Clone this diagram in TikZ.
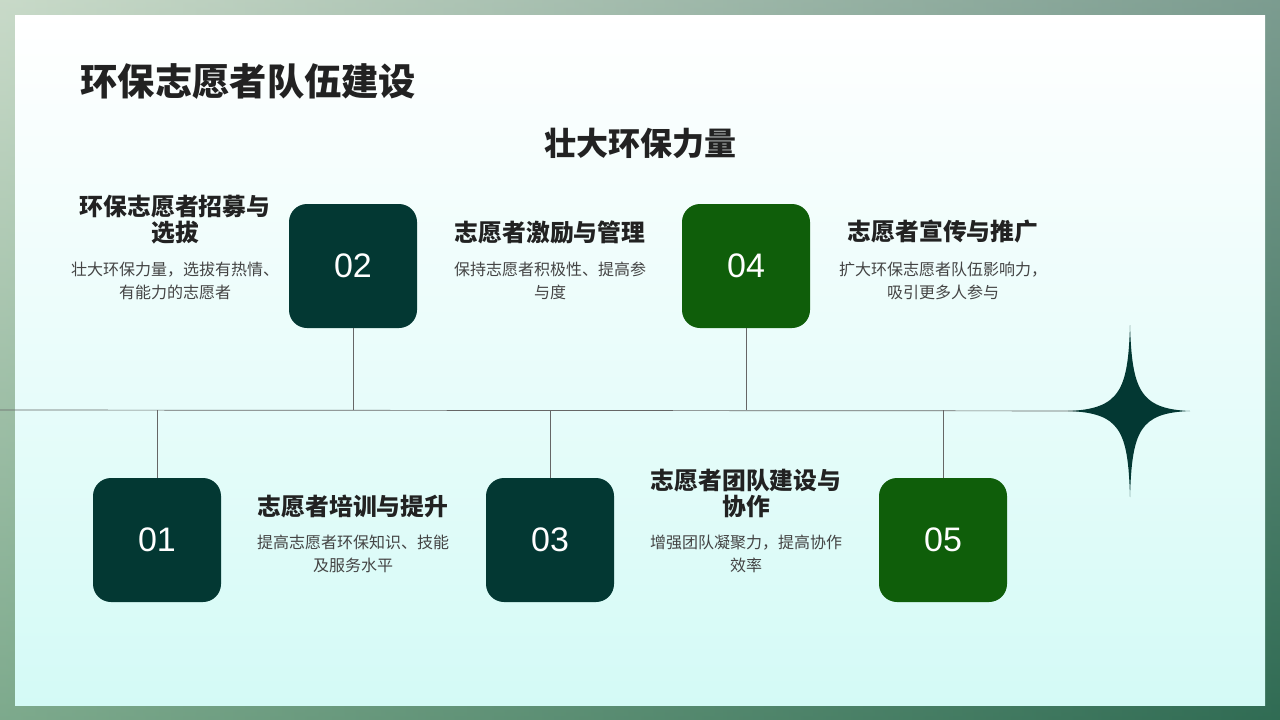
\documentclass[tikz,border=0pt]{standalone}
\usepackage{fontspec}
\setmainfont{Noto Sans CJK SC}
\newfontfamily\numfont{Liberation Sans}
\definecolor{dk}{HTML}{033833}
\definecolor{gr}{HTML}{0F5E0A}
\definecolor{tx}{HTML}{222222}
\definecolor{bd}{HTML}{444444}
\tikzset{
 num/.style={rounded corners=18pt,minimum width=128pt,minimum height=124pt,text=white,font=\numfont\fontsize{34}{40}\selectfont},
 ttl/.style={align=center,text=tx,font=\fontsize{23.8}{26}\selectfont\bfseries},
 bdy/.style={align=center,text=bd,font=\fontsize{16}{23}\selectfont},
 ln/.style={draw=black!60,line width=0.7pt}
}
\begin{document}
\begin{tikzpicture}[x=1pt,y=-1pt]
\useasboundingbox (0,0) rectangle (1280,720);
\shade[top color=green!25!gray!40, bottom color=dk!80!green] (0,0) rectangle (1280,720);
\shade[left color=white!60!green!30!gray!40, right color=dk!70, opacity=0.6] (0,0) rectangle (1280,720);
\shade[top color=white, bottom color={rgb,255:red,212;green,250;blue,246}] (15,15) rectangle (1265,705);
\node[anchor=west,text=tx,font=\fontsize{37.3}{40}\selectfont\bfseries] (t) at (77,82) {环保志愿者队伍建设};
\node[text=tx,font=\fontsize{32}{34}\selectfont\bfseries] (st) at (640,143) {壮大环保力量};
\coordinate (L) at (0,410);
\coordinate (S) at (1130,411);
\draw[ln] (L) -- (S);
\fill[dk] (1130,325) .. controls (1132,390) and (1140,409) .. (1190,411)
 .. controls (1140,413) and (1132,430) .. (1130,497)
 .. controls (1128,430) and (1120,413) .. (1068,411)
 .. controls (1120,409) and (1128,390) .. (1130,325) -- cycle;
\node[num,fill=dk] (b1) at (157,540) {01};
\node[num,fill=dk] (b2) at (353,266) {02};
\node[num,fill=dk] (b3) at (550,540) {03};
\node[num,fill=gr] (b4) at (746,266) {04};
\node[num,fill=gr] (b5) at (943,540) {05};
\foreach \b in {b2,b4}{\draw[ln] (\b.south) -- (\b.south |- L);}
\foreach \b in {b1,b3,b5}{\draw[ln] (\b.north) -- (\b.north |- L);}
\node[ttl] (h1) at (175,220) {环保志愿者招募与\\选拔};
\node[bdy] (p1) at (175,281) {壮大环保力量，选拔有热情、\\有能力的志愿者};
\node[ttl] (h2) at (550,232) {志愿者激励与管理};
\node[bdy] (p2) at (550,281) {保持志愿者积极性、提高参\\与度};
\node[ttl] (h3) at (943,232) {志愿者宣传与推广};
\node[bdy] (p3) at (943,281) {扩大环保志愿者队伍影响力，\\吸引更多人参与};
\node[ttl] (h4) at (353,507) {志愿者培训与提升};
\node[bdy] (p4) at (353,554) {提高志愿者环保知识、技能\\及服务水平};
\node[ttl] (h5) at (746,493) {志愿者团队建设与\\协作};
\node[bdy] (p5) at (746,554) {增强团队凝聚力，提高协作\\效率};
\end{tikzpicture}
\end{document}
